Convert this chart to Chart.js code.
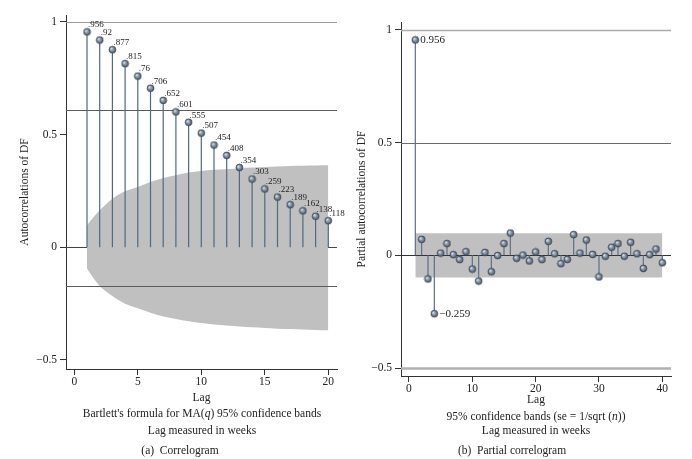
<!DOCTYPE html>
<html>
<head>
<meta charset="utf-8">
<script src="https://cdn.jsdelivr.net/npm/chart.js@4.4.1/dist/chart.umd.min.js"></script>
<style>
  html, body { margin: 0; padding: 0; background: #fff; }
  #wrap { position: relative; width: 692px; height: 459px; overflow: hidden; }
  .box { position: absolute; top: 0; width: 346px; height: 459px; }
  .cap { position: absolute; font-family: 'Liberation Serif', serif; font-size: 11.5px; line-height: 14px;
         color: #222; white-space: nowrap; transform: translateX(-50%); }
</style>
</head>
<body>
<div id="wrap">
  <div class="box" style="left:0"><canvas id="acf"></canvas></div>
  <div class="box" style="left:346px"><canvas id="pacf"></canvas></div>

  <div class="cap" style="left:202px;top:406px">Bartlett's formula for MA(<i>q</i>) 95% confidence bands</div>
  <div class="cap" style="left:202px;top:423px">Lag measured in weeks</div>
  <div class="cap" style="left:180px;top:443px">(a)&nbsp; Correlogram</div>

  <div class="cap" style="left:536px;top:409px">95% confidence bands (se = 1/sqrt (<i>n</i>))</div>
  <div class="cap" style="left:536px;top:423px">Lag measured in weeks</div>
  <div class="cap" style="left:512px;top:443px">(b)&nbsp; Partial correlogram</div>
</div>

<script>
// ---- data ----
const acfLags = [1, 2, 3, 4, 5, 6, 7, 8, 9, 10, 11, 12, 13, 14, 15, 16, 17, 18, 19, 20];
const acfValues = [0.956, 0.92, 0.877, 0.815, 0.76, 0.706, 0.652, 0.601, 0.555, 0.507,
                   0.454, 0.408, 0.354, 0.303, 0.259, 0.223, 0.189, 0.162, 0.138, 0.118];
const acfLabels = ['.956', '.92', '.877', '.815', '.76', '.706', '.652', '.601', '.555', '.507',
                   '.454', '.408', '.354', '.303', '.259', '.223', '.189', '.162', '.138', '.118'];
const acfBandHi = [0.098, 0.164, 0.216, 0.249, 0.268, 0.290, 0.308, 0.320, 0.332, 0.339,
                   0.344, 0.347, 0.351, 0.354, 0.357, 0.359, 0.361, 0.362, 0.363, 0.364];
const acfBandLo = [-0.095, -0.172, -0.216, -0.250, -0.270, -0.290, -0.307, -0.318, -0.328, -0.336,
                   -0.342, -0.347, -0.351, -0.355, -0.358, -0.361, -0.363, -0.365, -0.367, -0.368];
const acfRefLines = [1, 0.609, -0.173];
const acfXTicks = [0, 5, 10, 15, 20];

const pacfLags = [];
for (let i = 1; i <= 40; i++) pacfLags.push(i);
const pacfValues = [0.956, 0.071, -0.105, -0.259, 0.010, 0.052, 0.003, -0.019, 0.016, -0.061,
                    -0.114, 0.013, -0.073, -0.001, 0.052, 0.099, -0.013, 0.001, -0.025, 0.015,
                    -0.019, 0.062, 0.007, -0.037, -0.018, 0.092, 0.010, 0.068, 0.004, -0.096,
                    -0.004, 0.036, 0.052, -0.004, 0.058, 0.007, -0.058, 0.003, 0.028, -0.033];
const pacfBandLags = [1, 40];
const pacfBandHi = [0.098, 0.098];
const pacfBandLo = [-0.098, -0.098];
const pacfLabelLags = [1, 4];
const pacfLabelText = ['0.956', '\u22120.259'];
const pacfRefLines = [1, 0.5, -0.5];
const pacfXTicks = [0, 10, 20, 30, 40];

const yTicks = [-0.5, 0, 0.5, 1];

// ---- helpers ----
const SERIF = "'Liberation Serif', 'DejaVu Serif', serif";

function fmt(v) {
  return v < 0 ? '\u2212' + Math.abs(v) : String(v);
}

// little shaded ball used as the marker
function makeBall(r) {
  const c = document.createElement('canvas');
  const d = Math.ceil(r * 2 + 2);
  c.width = d; c.height = d;
  const g = c.getContext('2d');
  const cx = d / 2, cy = d / 2;
  const grad = g.createRadialGradient(cx - r * 0.4, cy - r * 0.4, 0.3, cx, cy, r);
  grad.addColorStop(0, '#e4e9ef');
  grad.addColorStop(0.45, '#8d9bab');
  grad.addColorStop(1, '#4a5868');
  g.fillStyle = grad;
  g.beginPath(); g.arc(cx, cy, r, 0, Math.PI * 2); g.fill();
  g.strokeStyle = '#34414f'; g.lineWidth = 0.8; g.stroke();
  return c;
}
const ball = makeBall(3.4);

function stems(lags, vals) {
  const pts = [];
  lags.forEach((l, i) => {
    pts.push({ x: l, y: 0 }, { x: l, y: vals[i] }, { x: l, y: null });
  });
  return pts;
}
function pairs(lags, vals) {
  return lags.map((l, i) => ({ x: l, y: vals[i] }));
}

function drawLines(chart, lines) {
  if (!lines) return;
  const { ctx, chartArea: a, scales: { y } } = chart;
  ctx.save();
  lines.forEach(l => {
    const py = Math.round(y.getPixelForValue(l.y)) + (l.width % 2 ? 0.5 : 0);
    ctx.strokeStyle = l.color;
    ctx.lineWidth = l.width;
    ctx.beginPath(); ctx.moveTo(a.left, py); ctx.lineTo(a.right, py); ctx.stroke();
  });
  ctx.restore();
}

const refLinePlugin = {
  id: 'refLines',
  beforeDatasetsDraw(chart, args, opts) { drawLines(chart, opts.under); },
  beforeDatasetDraw(chart, args, opts) { if (args.index === 2) drawLines(chart, opts.over); }
};

const labelPlugin = {
  id: 'ptLabels',
  afterDatasetsDraw(chart, args, opts) {
    const meta = chart.getDatasetMeta(3);
    const ctx = chart.ctx;
    ctx.save();
    ctx.font = opts.size + 'px ' + SERIF;
    ctx.fillStyle = '#222';
    ctx.textAlign = 'left';
    ctx.textBaseline = 'middle';
    opts.items.forEach(it => {
      const p = meta.data[it.index];
      ctx.fillText(it.text, p.x + opts.dx, p.y + opts.dy);
    });
    ctx.restore();
  }
};

function buildChart(id, cfg) {
  return new Chart(document.getElementById(id), {
    type: 'line',
    data: {
      datasets: [
        { data: pairs(cfg.bandLags, cfg.bandHi), fill: '+1', backgroundColor: '#c0c0c0',
          borderWidth: 0, pointRadius: 0, cubicInterpolationMode: 'monotone', order: 10 },
        { data: pairs(cfg.bandLags, cfg.bandLo), fill: false, borderWidth: 0, pointRadius: 0,
          cubicInterpolationMode: 'monotone', order: 10 },
        { data: stems(cfg.lags, cfg.values), borderColor: cfg.stemColor, borderWidth: 1.2,
          pointRadius: 0, spanGaps: false, order: 2 },
        { data: pairs(cfg.lags, cfg.values), showLine: false, pointStyle: ball,
          pointRadius: 4, order: 1 }
      ]
    },
    options: {
      responsive: true,
      maintainAspectRatio: false,
      animation: false,
      events: [],
      layout: { padding: cfg.padding },
      plugins: {
        legend: { display: false },
        tooltip: { enabled: false },
        refLines: { under: cfg.under, over: cfg.over },
        ptLabels: cfg.labels
      },
      scales: {
        x: {
          type: 'linear', min: cfg.xMin, max: cfg.xMax,
          afterBuildTicks: s => { s.ticks = cfg.xTicks.map(v => ({ value: v })); },
          afterFit: s => { s.height = cfg.xHeight; },
          border: { color: '#333', width: 1 },
          grid: { drawOnChartArea: false, drawTicks: true, tickLength: 6, tickColor: '#333' },
          ticks: { font: { family: SERIF, size: 11.5 }, color: '#222', padding: 0, maxRotation: 0 },
          title: { display: true, text: 'Lag', color: '#222', font: { family: SERIF, size: 11.5 },
                   padding: { top: 0, bottom: cfg.lagPad } }
        },
        y: {
          type: 'linear', min: cfg.yMin, max: cfg.yMax,
          afterBuildTicks: s => { s.ticks = yTicks.map(v => ({ value: v })); },
          afterFit: s => { s.width = cfg.yWidth; },
          border: { color: '#333', width: 1 },
          grid: { drawOnChartArea: false, drawTicks: true, tickLength: 6, tickColor: '#333' },
          ticks: { font: { family: SERIF, size: 11.5 }, color: '#222', padding: 3, callback: fmt },
          title: { display: true, text: cfg.yTitle, color: '#222', font: { family: SERIF, size: 11.5 },
                   padding: { top: cfg.yTitlePad, bottom: 0 } }
        }
      }
    },
    plugins: [refLinePlugin, labelPlugin]
  });
}

buildChart('acf', {
  lags: acfLags, values: acfValues,
  bandLags: acfLags, bandHi: acfBandHi, bandLo: acfBandLo,
  stemColor: '#4e6a86',
  xMin: -0.654, xMax: 20.685, xTicks: acfXTicks,
  yMin: -0.54, yMax: 1.031,
  padding: { left: 0, right: 9, top: 15, bottom: 0 },
  xHeight: 90, yWidth: 66, lagPad: 54, yTitlePad: 18,
  yTitle: 'Autocorrelations of DF',
  under: [{ y: 0, color: '#444', width: 1 }],
  over: [
    { y: acfRefLines[0], color: '#9c9c9c', width: 1 },
    { y: acfRefLines[1], color: '#5c5c5c', width: 1 },
    { y: acfRefLines[2], color: '#5c5c5c', width: 1 }
  ],
  labels: { size: 9, dx: 1, dy: -7, items: acfLabels.map((t, i) => ({ index: i, text: t })) }
});

buildChart('pacf', {
  lags: pacfLags, values: pacfValues,
  bandLags: pacfBandLags, bandHi: pacfBandHi, bandLo: pacfBandLo,
  stemColor: '#5a7189',
  xMin: -1.263, xMax: 41.37, xTicks: pacfXTicks,
  yMin: -0.5355, yMax: 1.0355,
  padding: { left: 0, right: 21, top: 22, bottom: 0 },
  xHeight: 83, yWidth: 55, lagPad: 52, yTitlePad: 9,
  yTitle: 'Partial autocorrelations of DF',
  under: [],
  over: [
    { y: pacfRefLines[0], color: '#aaaaaa', width: 1.5 },
    { y: pacfRefLines[1], color: '#6a6a6a', width: 1 },
    { y: 0, color: '#333', width: 1 },
    { y: pacfRefLines[2], color: '#b0b0b0', width: 2.5 }
  ],
  labels: { size: 11, dx: 5, dy: 0,
            items: pacfLabelLags.map((l, i) => ({ index: l - 1, text: pacfLabelText[i] })) }
});
</script>
</body>
</html>
